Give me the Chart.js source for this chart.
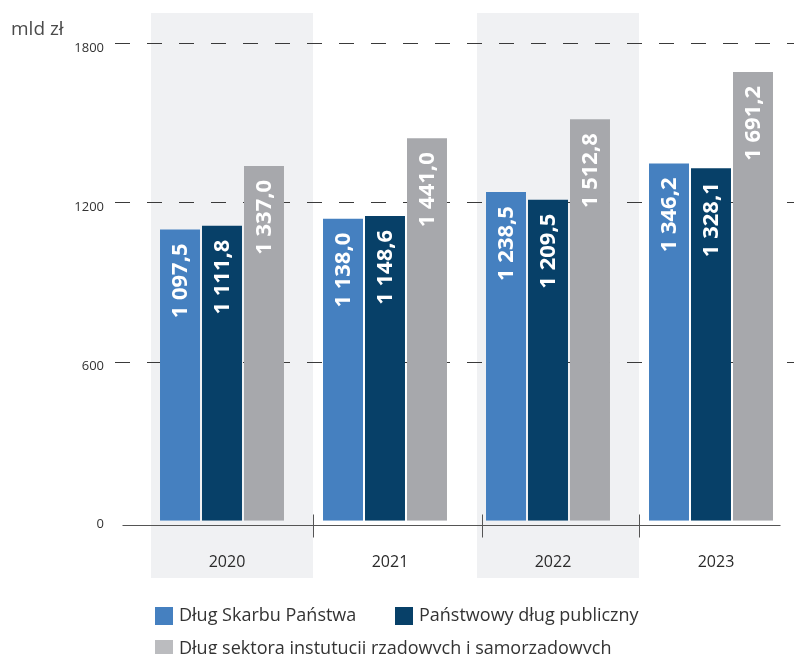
<!DOCTYPE html>
<html>
<head>
<meta charset="utf-8">
<script src="https://cdn.jsdelivr.net/npm/chart.js@4/dist/chart.umd.min.js"></script>
<style>
  html, body { margin: 0; padding: 0; background: #fff; }
  #wrap { width: 794px; height: 654px; }
</style>
</head>
<body>
<div id="wrap"><canvas id="chartDlug" width="794" height="654"></canvas></div>
<script>
const years = ['2020', '2021', '2022', '2023'];
const dlugSkarbu = [1097.5, 1138.0, 1238.5, 1346.2];
const dlugPublicz = [1111.8, 1148.6, 1209.5, 1328.1];
const dlugSektora = [1337.0, 1441.0, 1512.8, 1691.2];
const yTicks = [0, 600, 1200, 1800];
const unitLabel = 'mld zł';

const seriesNames = [
    'Dług Skarbu Państwa',
    'Państwowy dług publiczny',
    'Dług sektora instutucji rządowych i samorządowych'
];
const barColors = ['#4580c0', '#074068', '#a7a8ac'];
const legendColors = ['#4580c0', '#074068', '#bbbcbf'];
const FONT = '"Open Sans", "Liberation Sans", sans-serif';

// 1 097,5 style
function fmtPl(v) {
    const parts = v.toFixed(1).split('.');
    const intPart = parts[0].replace(/\B(?=(\d{3})+(?!\d))/g, ' ');
    return intPart + ',' + parts[1];
}

const decorPlugin = {
    id: 'decor',
    beforeDraw(chart) {
        const ctx = chart.ctx;
        const x = chart.scales.x;
        const y = chart.scales.y;
        const area = chart.chartArea;
        const half = (x.getPixelForValue(1) - x.getPixelForValue(0)) / 2;

        ctx.save();
        ctx.fillStyle = '#fff';
        ctx.fillRect(0, 0, chart.width, chart.height);

        // shaded bands for 2020 and 2022
        ctx.fillStyle = '#f0f1f3';
        [0, 2].forEach(i => {
            const c = x.getPixelForValue(i);
            ctx.fillRect(c - 71, 13, 162, 565);
        });

        // dashed grid lines
        ctx.strokeStyle = '#3a3a3a';
        ctx.lineWidth = 1;
        ctx.setLineDash([15, 17]);
        yTicks.forEach(t => {
            if (t === 0) return;
            const py = Math.round(y.getPixelForValue(t)) + 0.5;
            ctx.beginPath();
            ctx.moveTo(115, py);
            ctx.lineTo(794, py);
            ctx.stroke();
        });
        ctx.setLineDash([]);

        // base axis line with separators
        const base = Math.round(y.getPixelForValue(0)) + 4.5;
        ctx.strokeStyle = '#555';
        ctx.lineWidth = 1.2;
        ctx.beginPath();
        ctx.moveTo(area.left - 18, base);
        ctx.lineTo(area.right - 12, base);
        ctx.stroke();
        ctx.lineWidth = 1;
        const sepShift = [9, 15, 9];
        for (let i = 0; i < years.length - 1; i++) {
            const bx = Math.round(x.getPixelForValue(i) + half + sepShift[i]) + 0.5;
            ctx.beginPath();
            ctx.moveTo(bx, base - 11);
            ctx.lineTo(bx, base + 12);
            ctx.stroke();
        }

        // y tick labels
        ctx.fillStyle = '#333';
        ctx.font = '13px ' + FONT;
        ctx.textAlign = 'right';
        ctx.textBaseline = 'middle';
        yTicks.forEach(t => {
            const py = y.getPixelForValue(t) + (t === 0 ? 3 : 5);
            ctx.fillText(String(t), 104, py);
        });

        // unit label
        ctx.font = '19px ' + FONT;
        ctx.fillStyle = '#4a4a4a';
        ctx.textAlign = 'left';
        ctx.fillText(unitLabel, 11, 30);
        ctx.restore();
    },
    afterDatasetsDraw(chart) {
        const ctx = chart.ctx;
        ctx.save();
        ctx.fillStyle = '#fff';
        ctx.font = 'bold 22px ' + FONT;
        ctx.textAlign = 'right';
        ctx.textBaseline = 'middle';
        chart.data.datasets.forEach((ds, di) => {
            const meta = chart.getDatasetMeta(di);
            meta.data.forEach((bar, i) => {
                ctx.save();
                ctx.translate(bar.x + 1, bar.y + 14);
                ctx.rotate(-Math.PI / 2);
                ctx.fillText(fmtPl(ds.data[i]), 0, 0);
                ctx.restore();
            });
        });
        ctx.restore();
    },
    afterDraw(chart) {
        const ctx = chart.ctx;
        ctx.save();
        ctx.font = '18px ' + FONT;
        ctx.textAlign = 'left';
        ctx.textBaseline = 'middle';
        const items = [
            { x: 155, y: 607 },
            { x: 395, y: 607 },
            { x: 155, y: 640 }
        ];
        items.forEach((it, i) => {
            ctx.fillStyle = legendColors[i];
            ctx.fillRect(it.x, it.y, 18, 18);
            ctx.fillStyle = '#333';
            ctx.fillText(seriesNames[i], it.x + 24, it.y + 9);
        });
        ctx.restore();
    }
};

const ctxDlug = document.getElementById('chartDlug').getContext('2d');

const chartDlug = new Chart(ctxDlug, {
    type: 'bar',
    data: {
        labels: years,
        datasets: [
            { label: seriesNames[0], data: dlugSkarbu, backgroundColor: barColors[0] },
            { label: seriesNames[1], data: dlugPublicz, backgroundColor: barColors[1] },
            { label: seriesNames[2], data: dlugSektora, backgroundColor: barColors[2] }
        ]
    },
    options: {
        responsive: false,
        animation: false,
        categoryPercentage: 0.773,
        barPercentage: 0.952,
        layout: {
            padding: { left: 140.5, right: 1.5, top: 43, bottom: 50 }
        },
        plugins: {
            legend: { display: false },
            tooltip: { enabled: false }
        },
        scales: {
            x: {
                offset: true,
                grid: { display: false, drawTicks: false },
                border: { display: false },
                ticks: {
                    color: '#2a2a2a',
                    font: { family: FONT, size: 16 },
                    padding: 32,
                    labelOffset: 5
                }
            },
            y: {
                display: false,
                min: 0,
                max: 1800
            }
        }
    },
    plugins: [decorPlugin]
});
</script>
</body>
</html>
